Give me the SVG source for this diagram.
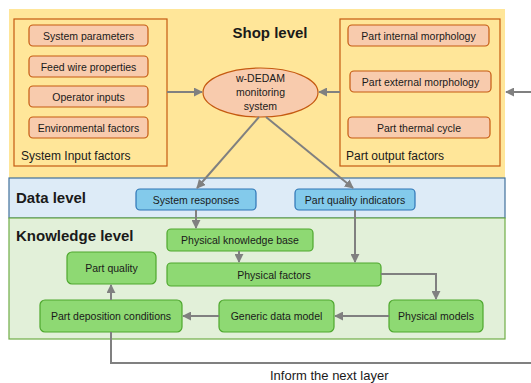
<svg xmlns="http://www.w3.org/2000/svg" width="531" height="383" viewBox="0 0 531 383">
<style>
text{font-family:"Liberation Sans",Arial,sans-serif;fill:#1a1a1a}
.sm{font-size:10.5px;text-anchor:middle}
.lbl{font-size:12px}
.hd{font-size:15px;font-weight:bold}
.ob{fill:#F8CBAD;stroke:#C55A11;stroke-width:1.2}
.gb{fill:#8ED973;stroke:#4EA72E;stroke-width:1.2}
.bb{fill:#83CAEB;stroke:#2E75B6;stroke-width:1.2}
.con{fill:none;stroke:#808080;stroke-width:2}
</style>
<defs>
<marker id="ah" viewBox="0 0 10 10" refX="9" refY="5" markerWidth="4.5" markerHeight="4.5" orient="auto">
<path d="M0,0 L10,5 L0,10 z" fill="#808080"/>
</marker>
</defs>
<rect width="531" height="383" fill="#fff"/>
<g id="shop-level">
<rect x="9" y="9" width="496" height="169" fill="#FFE699"/>
<text class="hd" x="270" y="38" text-anchor="middle">Shop level</text>
</g>
<g id="data-level">
<rect x="9" y="178" width="496" height="40" fill="#DDEBF7" stroke="#41719C" stroke-width="1.2"/>
<text class="hd" x="16" y="203">Data level</text>
</g>
<g id="knowledge-level">
<rect x="9" y="218" width="496" height="121" fill="#E2F0D9" stroke="#70AD47" stroke-width="1.2"/>
<text class="hd" x="16" y="241">Knowledge level</text>
</g>
<g id="system-input-factors">
<rect x="14" y="19" width="153" height="147" fill="none" stroke="#C55A11" stroke-width="1.2"/>
<text class="lbl" x="21" y="160">System Input factors</text>
</g>
<g id="system-parameters"><rect class="ob" x="29" y="25" width="119" height="21" rx="4"/><text class="sm" x="88.5" y="39.5">System parameters</text></g>
<g id="feed-wire-properties"><rect class="ob" x="29" y="56" width="119" height="21" rx="4"/><text class="sm" x="88.5" y="70.5">Feed wire properties</text></g>
<g id="operator-inputs"><rect class="ob" x="29" y="86" width="119" height="21" rx="4"/><text class="sm" x="88.5" y="100.5">Operator inputs</text></g>
<g id="environmental-factors"><rect class="ob" x="29" y="117" width="119" height="21" rx="4"/><text class="sm" x="88.5" y="131.5">Environmental factors</text></g>
<g id="w-dedam">
<ellipse class="ob" cx="260.5" cy="92.5" rx="57.5" ry="24.5"/>
<text class="sm" x="260.5" y="82">w-DEDAM</text>
<text class="sm" x="260.5" y="96">monitoring</text>
<text class="sm" x="260.5" y="109.5">system</text>
</g>
<g id="part-output-factors">
<rect x="340" y="19" width="160" height="147" fill="none" stroke="#C55A11" stroke-width="1.2"/>
<text class="lbl" x="346" y="160">Part output factors</text>
</g>
<g id="part-internal-morphology"><rect class="ob" x="348" y="25" width="141" height="21" rx="4"/><text class="sm" x="418.5" y="39.5">Part internal morphology</text></g>
<g id="part-external-morphology"><rect class="ob" x="350" y="71" width="141" height="21" rx="4"/><text class="sm" x="420.5" y="85.5">Part external morphology</text></g>
<g id="part-thermal-cycle"><rect class="ob" x="348" y="117" width="142" height="21" rx="4"/><text class="sm" x="419" y="131.5">Part thermal cycle</text></g>
<g id="system-responses"><rect class="bb" x="136" y="189" width="120" height="21" rx="4"/><text class="sm" x="196" y="203.5">System responses</text></g>
<g id="part-quality-indicators"><rect class="bb" x="295" y="189" width="120" height="21" rx="4"/><text class="sm" x="355" y="203.5">Part quality indicators</text></g>
<g id="physical-knowledge-base"><rect class="gb" x="167" y="229" width="146" height="22" rx="4"/><text class="sm" x="240" y="244">Physical knowledge base</text></g>
<g id="physical-factors"><rect class="gb" x="167" y="263" width="214" height="23" rx="4"/><text class="sm" x="274" y="278.5">Physical factors</text></g>
<g id="part-quality"><rect class="gb" x="67" y="252" width="89" height="32" rx="5"/><text class="sm" x="111.5" y="271.5">Part quality</text></g>
<g id="part-deposition-conditions"><rect class="gb" x="40" y="300" width="142" height="32" rx="5"/><text class="sm" x="111" y="319.5">Part deposition conditions</text></g>
<g id="generic-data-model"><rect class="gb" x="219" y="300" width="115" height="32" rx="5"/><text class="sm" x="276.5" y="319.5">Generic data model</text></g>
<g id="physical-models"><rect class="gb" x="389" y="300" width="94" height="32" rx="5"/><text class="sm" x="436" y="319.5">Physical models</text></g>
<g id="connectors">
<path class="con" d="M167,92 L202,92" marker-end="url(#ah)"/>
<path class="con" d="M340,92 L319,92" marker-end="url(#ah)"/>
<path class="con" d="M531,92 L506,92" marker-end="url(#ah)"/>
<path class="con" d="M259,117 L197,188" marker-end="url(#ah)"/>
<path class="con" d="M266,117 L353,188" marker-end="url(#ah)"/>
<path class="con" d="M196,210 L196,228" marker-end="url(#ah)"/>
<path class="con" d="M355,210 L355,262" marker-end="url(#ah)"/>
<path class="con" d="M239,251 L239,262" marker-end="url(#ah)"/>
<path class="con" d="M381,274 L436,274 L436,299" marker-end="url(#ah)"/>
<path class="con" d="M389,316 L335,316" marker-end="url(#ah)"/>
<path class="con" d="M219,316 L183,316" marker-end="url(#ah)"/>
<path class="con" d="M111,300 L111,285" marker-end="url(#ah)"/>
<path class="con" d="M111,332 L111,363 L531,363"/>
</g>
<text x="270" y="380" font-size="13">Inform the next layer</text>
</svg>
